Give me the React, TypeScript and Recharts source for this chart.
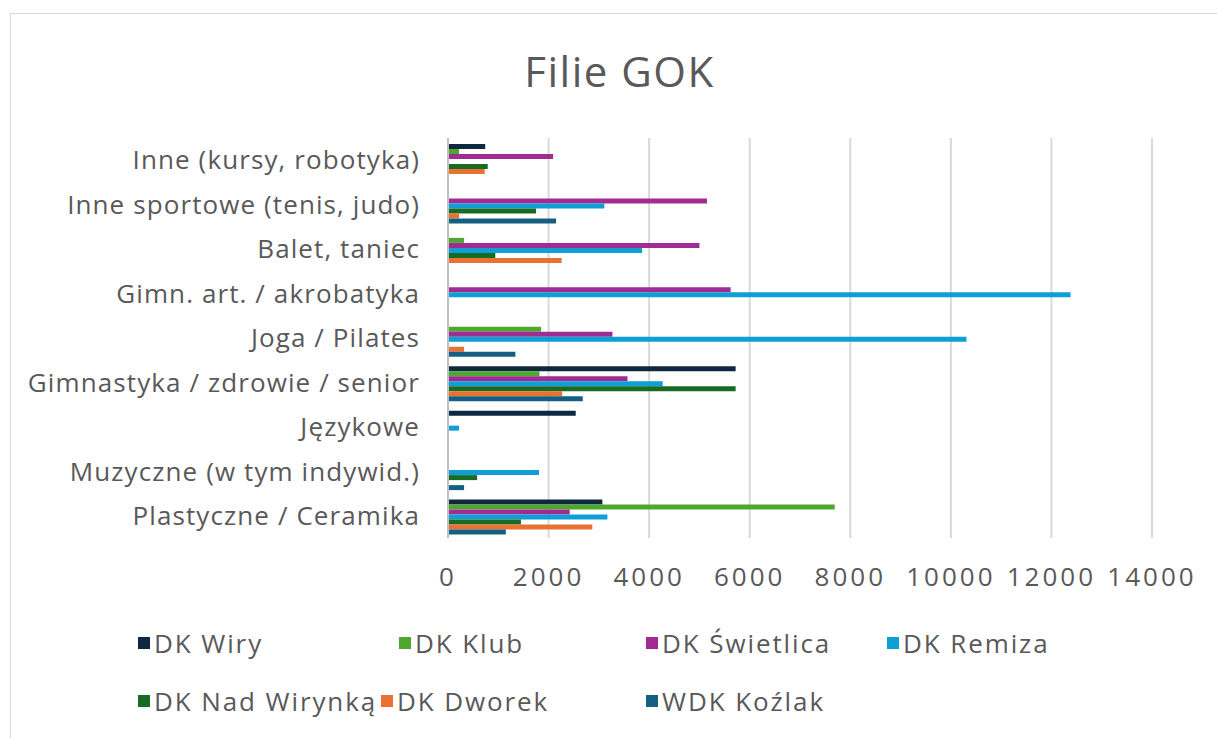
import React from "react";
import { BarChart, Bar, CartesianGrid, XAxis, YAxis } from "recharts";

const categories = [
  "Inne (kursy, robotyka)",
  "Inne sportowe (tenis, judo)",
  "Balet, taniec",
  "Gimn. art. / akrobatyka",
  "Joga / Pilates",
  "Gimnastyka / zdrowie / senior",
  "Językowe",
  "Muzyczne (w tym indywid.)",
  "Plastyczne / Ceramika",
];

const dkWiry = [740, 0, 0, 0, 0, 5720, 2540, 0, 3070];
const dkKlub = [220, 0, 320, 0, 1850, 1820, 0, 0, 7690];
const dkSwietlica = [2090, 5150, 5000, 5620, 3270, 3570, 0, 0, 2420];
const dkRemiza = [0, 3110, 3860, 12380, 10310, 4270, 220, 1810, 3170];
const dkNadWirynka = [790, 1750, 940, 0, 0, 5720, 0, 580, 1450];
const dkDworek = [730, 220, 2260, 0, 320, 2270, 0, 0, 2870];
const wdkKozlak = [0, 2150, 0, 0, 1340, 2680, 0, 320, 1150];

const xTicks = [0, 2000, 4000, 6000, 8000, 10000, 12000, 14000];

const series = [
  { key: "DK Wiry", values: dkWiry, color: "#0e2841" },
  { key: "DK Klub", values: dkKlub, color: "#4ea72e" },
  { key: "DK Świetlica", values: dkSwietlica, color: "#a02b93" },
  { key: "DK Remiza", values: dkRemiza, color: "#0f9ed5" },
  { key: "DK Nad Wirynką", values: dkNadWirynka, color: "#196b24" },
  { key: "DK Dworek", values: dkDworek, color: "#e97132" },
  { key: "WDK Koźlak", values: wdkKozlak, color: "#156082" },
];

const data = categories.map((name, i) => {
  const row: any = { name };
  series.forEach((s) => (row[s.key] = s.values[i]));
  return row;
});

// legend item spots (left, top) inside the frame
const legendSpots = [
  [127, 629],
  [388, 629],
  [635, 629],
  [876, 629],
  [127, 687],
  [370, 687],
  [635, 687],
];

const FONT = "'Open Sans', sans-serif";
const TEXT = "#595959";

export default function App() {
  return (
    <div
      style={{
        position: "absolute",
        left: 10,
        top: 13,
        width: 1207,
        height: 725,
        borderTop: "1px solid #d9d9d9",
        borderLeft: "1px solid #d9d9d9",
        boxSizing: "border-box",
        background: "#fff",
        fontFamily: FONT,
      }}
    >
      <div
        style={{
          position: "absolute",
          left: 0,
          width: 1217,
          top: 28,
          textAlign: "center",
          fontSize: 42,
          letterSpacing: 1.5,
          color: TEXT,
        }}
      >
        Filie GOK
      </div>
      <BarChart
        width={1206}
        height={724}
        data={data}
        layout="vertical"
        margin={{ top: 124, right: 65, left: 0, bottom: 140 }}
        barCategoryGap={6}
        barGap={0}
      >
        <CartesianGrid horizontal={false} stroke="#d9d9d9" strokeWidth={2} />
        <XAxis
          type="number"
          domain={[0, 14000]}
          ticks={xTicks}
          axisLine={false}
          tickLine={false}
          tickSize={0}
          tickMargin={30}
          height={60}
          tick={{ fill: TEXT, fontSize: 26, fontFamily: FONT, letterSpacing: 3 }}
        />
        <YAxis
          type="category"
          dataKey="name"
          width={437}
          axisLine={{ stroke: "#bfbfbf", strokeWidth: 2 }}
          tickLine={false}
          tickSize={0}
          tickMargin={28}
          interval={0}
          tick={{ fill: TEXT, fontSize: 26, fontFamily: FONT, letterSpacing: 1.1 }}
        />
        {series.map((s) => (
          <Bar key={s.key} dataKey={s.key} fill={s.color} isAnimationActive={false} />
        ))}
      </BarChart>
      {series.map((s, i) => (
        <div
          key={s.key}
          style={{
            position: "absolute",
            left: legendSpots[i][0],
            top: legendSpots[i][1] - 18,
            display: "flex",
            alignItems: "center",
            fontSize: 26,
            letterSpacing: 1.9,
            color: TEXT,
            whiteSpace: "nowrap",
          }}
        >
          <span style={{ width: 12, height: 12, background: s.color, marginRight: 4 }} />
          {s.key}
        </div>
      ))}
    </div>
  );
}
